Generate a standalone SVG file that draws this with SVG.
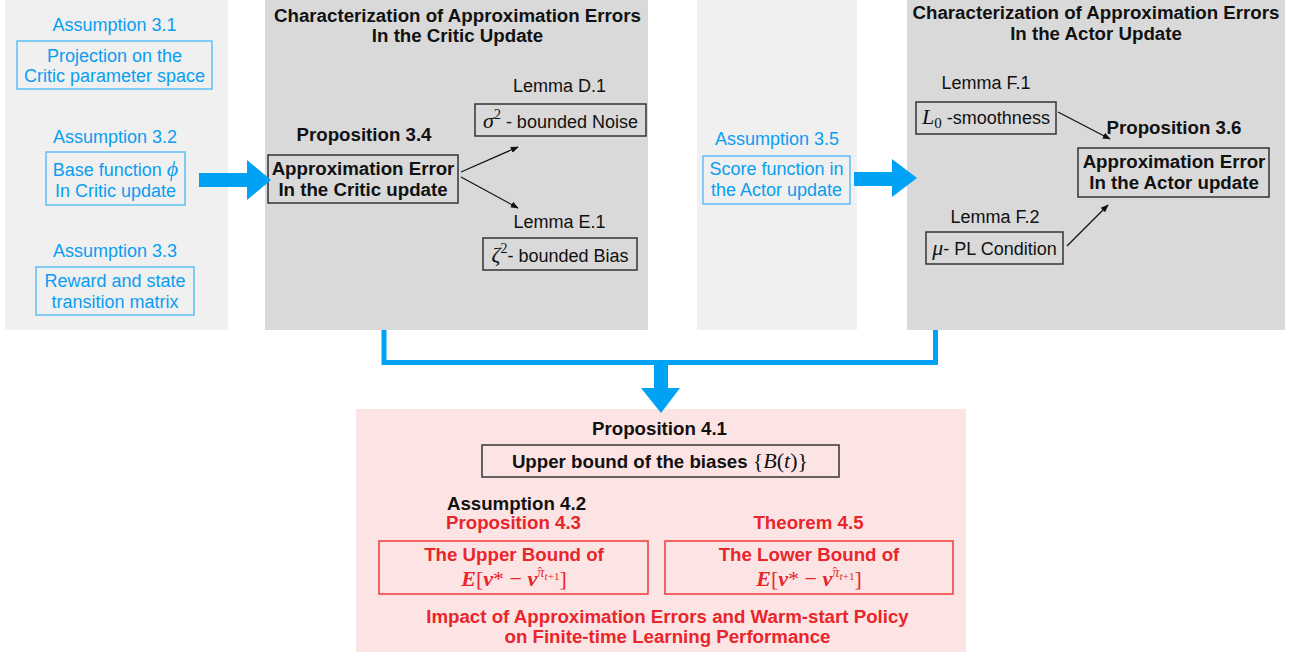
<svg xmlns="http://www.w3.org/2000/svg" width="1295" height="655" viewBox="0 0 1295 655">
<defs>
<style>
.t{font-family:"Liberation Sans",Arial,sans-serif;font-size:18px;text-anchor:middle;fill:#111}
.b{font-weight:bold;font-size:18.7px}
.blue{fill:#0A9EF0}
.red{fill:#E8262B}
.m{font-family:"Liberation Serif","Times New Roman",serif;font-style:italic}
.mt{font-family:"Liberation Serif","Times New Roman",serif;font-size:22px;text-anchor:middle;fill:#E8262B}
.bi{font-weight:bold;font-style:italic}
.bb{fill:none;stroke:#333;stroke-width:1.5}
.bl{fill:none;stroke:#5CC0F5;stroke-width:1.5}
.br{fill:none;stroke:#EE3A3A;stroke-width:1.5}
.ln{fill:none;stroke:#111;stroke-width:1.2}
.ba{fill:#00A2F5}
</style>
<marker id="ah" viewBox="0 0 10 10" refX="9" refY="5" markerWidth="8" markerHeight="8" markerUnits="userSpaceOnUse" orient="auto">
<path d="M0,1 L10,5 L0,9 Z" fill="#111"/>
</marker>
</defs>
<rect width="1295" height="655" fill="#fff"/>

<!-- panels -->
<g id="panel-assumptions-critic"><rect x="5" y="0" width="223" height="330" fill="#F0F0F0"/></g>
<g id="panel-critic"><rect x="265" y="0" width="383" height="330" fill="#D9D9D9"/>
<text class="t b" x="457.5" y="22" style="font-size:18.7px">Characterization of Approximation Errors</text>
<text class="t b" x="457.5" y="42" style="font-size:18.7px">In the Critic Update</text></g>
<g id="panel-assumption-actor"><rect x="697" y="0" width="160" height="330" fill="#F0F0F0"/></g>
<g id="panel-actor"><rect x="907" y="0" width="378" height="330" fill="#D9D9D9"/>
<text class="t b" x="1096" y="18.5" style="font-size:18.7px">Characterization of Approximation Errors</text>
<text class="t b" x="1096" y="40" style="font-size:18.7px">In the Actor Update</text></g>
<g id="panel-result"><rect x="356" y="409" width="610" height="243" fill="#FDE4E4"/></g>

<!-- left assumptions -->
<g id="a31">
<text class="t blue" x="114.5" y="31">Assumption 3.1</text>
<rect class="bl" x="17" y="41" width="195" height="48"/>
<text class="t blue" x="114.5" y="62">Projection on the</text>
<text class="t blue" x="114.5" y="82">Critic parameter space</text>
</g>
<g id="a32">
<text class="t blue" x="115" y="143">Assumption 3.2</text>
<rect class="bl" x="46" y="152" width="139" height="53"/>
<text class="t blue" x="115.5" y="176">Base function <tspan class="m" font-size="22">ϕ</tspan></text>
<text class="t blue" x="115.5" y="197">In Critic update</text>
</g>
<g id="a33">
<text class="t blue" x="115" y="257">Assumption 3.3</text>
<rect class="bl" x="36" y="267" width="158" height="48"/>
<text class="t blue" x="115" y="287">Reward and state</text>
<text class="t blue" x="115" y="308">transition matrix</text>
</g>

<!-- critic -->
<g id="p34">
<text class="t b" x="364" y="141">Proposition 3.4</text>
<rect class="bb" x="268" y="155" width="190" height="48"/>
<text class="t b" x="363" y="175">Approximation Error</text>
<text class="t b" x="363" y="196">In the Critic update</text>
</g>
<g id="ld1">
<text class="t" x="559.5" y="92">Lemma D.1</text>
<rect class="bb" x="475" y="104" width="171" height="32"/>
<text class="t" x="560.5" y="128"><tspan class="m" font-size="22">σ</tspan><tspan font-family="Liberation Serif" font-size="14" dy="-9">2</tspan><tspan dy="9"> - bounded Noise</tspan></text>
</g>
<g id="le1">
<text class="t" x="559.5" y="228">Lemma E.1</text>
<rect class="bb" x="483" y="238" width="154" height="32"/>
<text class="t" x="560" y="262"><tspan class="m" font-size="22">ζ</tspan><tspan font-family="Liberation Serif" font-size="14" dy="-9">2</tspan><tspan dy="9">- bounded Bias</tspan></text>
</g>

<!-- actor -->
<g id="a35">
<text class="t blue" x="777" y="145">Assumption 3.5</text>
<rect class="bl" x="703" y="156" width="147" height="48"/>
<text class="t blue" x="776.5" y="175">Score function in</text>
<text class="t blue" x="776.5" y="196">the Actor update</text>
</g>
<g id="lf1">
<text class="t" x="986" y="89">Lemma F.1</text>
<rect class="bb" x="916" y="102" width="140" height="32"/>
<text class="t" x="986" y="124"><tspan class="m" font-size="22">L</tspan><tspan font-family="Liberation Serif" font-size="15" dy="4">0</tspan><tspan dy="-4"> -smoothness</tspan></text>
</g>
<g id="lf2">
<text class="t" x="995" y="223">Lemma F.2</text>
<rect class="bb" x="926" y="232" width="137" height="32"/>
<text class="t" x="994.5" y="255"><tspan class="m" font-size="22">μ</tspan>- PL Condition</text>
</g>
<g id="p36">
<text class="t b" x="1174" y="134">Proposition 3.6</text>
<rect class="bb" x="1078" y="148" width="191" height="49"/>
<text class="t b" x="1174" y="168">Approximation Error</text>
<text class="t b" x="1174" y="189">In the Actor update</text>
</g>

<!-- result -->
<g id="p41">
<text class="t b" x="659.5" y="435">Proposition 4.1</text>
<rect class="bb" x="482" y="445" width="357" height="32"/>
<text class="t b" x="660" y="468">Upper bound of the biases <tspan font-family="Liberation Serif" font-weight="normal" font-size="22">{<tspan font-style="italic">B</tspan>(<tspan font-style="italic">t</tspan>)}</tspan></text>
</g>
<g id="p43">
<text class="t b" x="516.5" y="510">Assumption 4.2</text>
<text class="t b red" x="513.5" y="529">Proposition 4.3</text>
<rect class="br" x="379" y="541" width="269" height="53"/>
<text class="t b red" x="514" y="561">The Upper Bound of</text>
<text class="mt" x="514" y="586"><tspan class="bi">E</tspan>[<tspan class="bi">v</tspan>* − <tspan class="bi">v</tspan><tspan font-size="14" font-style="italic" dy="-9">π</tspan><tspan font-size="13" dx="-6.5" dy="-1">ˆ</tspan><tspan font-size="11" font-style="italic" dx="2.5" dy="4">t</tspan><tspan font-size="11">+1</tspan><tspan dy="6">]</tspan></text>
</g>
<g id="t45">
<text class="t b red" x="808.5" y="529">Theorem 4.5</text>
<rect class="br" x="665" y="541" width="288" height="53"/>
<text class="t b red" x="809" y="561">The Lower Bound of</text>
<text class="mt" x="809" y="586"><tspan class="bi">E</tspan>[<tspan class="bi">v</tspan>* − <tspan class="bi">v</tspan><tspan font-size="14" font-style="italic" dy="-9">π</tspan><tspan font-size="13" dx="-6.5" dy="-1">ˆ</tspan><tspan font-size="11" font-style="italic" dx="2.5" dy="4">t</tspan><tspan font-size="11">+1</tspan><tspan dy="6">]</tspan></text>
</g>
<g id="impact">
<text class="t b red" x="667.5" y="623">Impact of Approximation Errors and Warm-start Policy</text>
<text class="t b red" x="667.5" y="643">on Finite-time Learning Performance</text>
</g>

<!-- connectors -->
<g id="connectors">
<polygon class="ba" points="199,173 247,173 247,160 271,180 247,200 247,187 199,187"/>
<polygon class="ba" points="854,172 892,172 892,159 917,178 892,197 892,186 854,186"/>
<path d="M384,330 V362.5 H935.5 V330" fill="none" stroke="#00A2F5" stroke-width="5"/>
<polygon class="ba" points="654,362 668,362 668,388 680,388 661,413 641,388 654,388"/>
<line class="ln" x1="461" y1="172" x2="518" y2="147" marker-end="url(#ah)"/>
<line class="ln" x1="461" y1="177" x2="518" y2="208" marker-end="url(#ah)"/>
<line class="ln" x1="1058" y1="112" x2="1110" y2="139" marker-end="url(#ah)"/>
<line class="ln" x1="1067" y1="246" x2="1108" y2="205" marker-end="url(#ah)"/>
</g>
</svg>
